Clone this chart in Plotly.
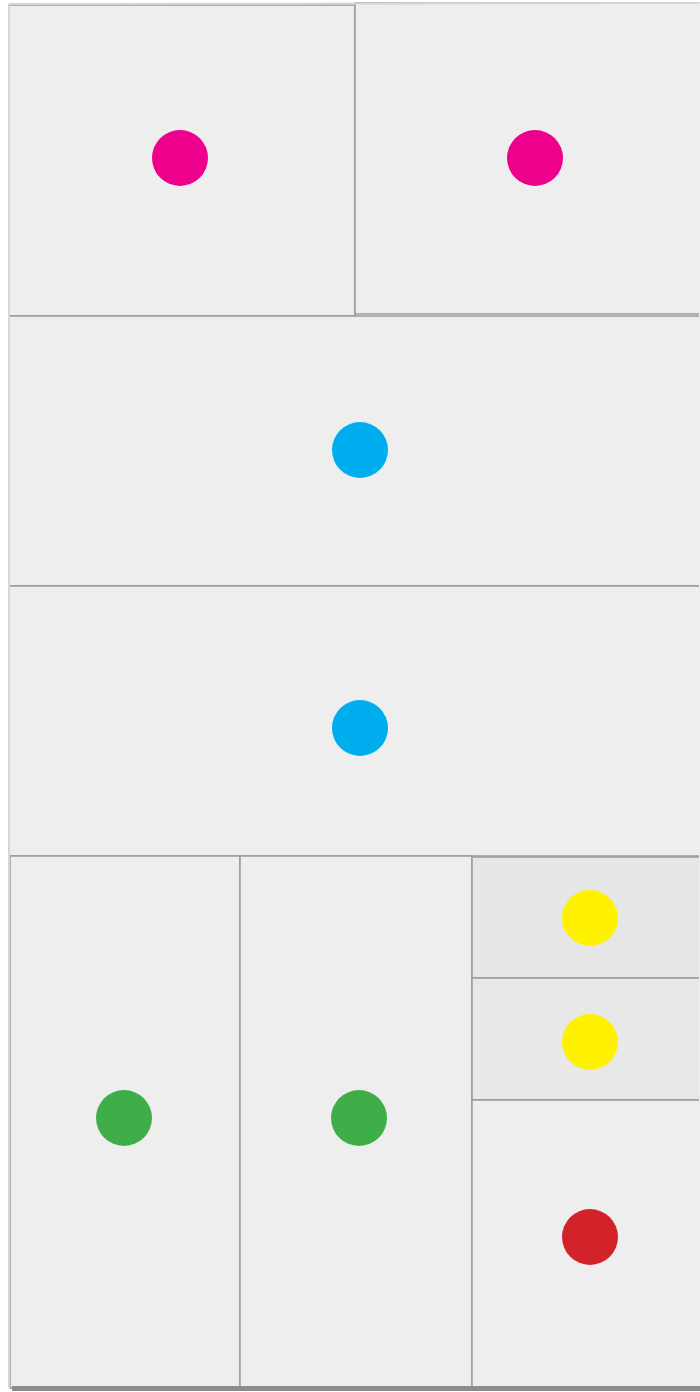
import plotly.graph_objects as go

# Panels of the cabinet (left, right, top, bottom) in picture units
panel_x0 = [9, 355, 9, 9, 10, 240, 472, 472, 472]
panel_x1 = [355, 700, 700, 700, 240, 472, 700, 700, 700]
panel_y0 = [5, 3, 316, 586, 856, 856, 857, 978, 1100]
panel_y1 = [316, 314, 586, 856, 1388, 1388, 978, 1100, 1388]
panel_fill = ["#eeeeee", "#eeeeee", "#eeeeee", "#eeeeee", "#eeeeee", "#eeeeee",
              "#e6e6e6", "#e8e8e8", "#eeeeee"]

# Coloured dots
dot_x = [180, 535, 360, 360, 590, 590, 124, 359, 590]
dot_y = [158, 158, 450, 728, 918, 1042, 1118, 1118, 1237]
dot_color = ["#ec008c", "#ec008c", "#00aeef", "#00aeef", "#fff200", "#fff200",
             "#3fae49", "#3fae49", "#d2232a"]

fig = go.Figure()

shapes = []
for x0, x1, y0, y1, fc in zip(panel_x0, panel_x1, panel_y0, panel_y1, panel_fill):
    shapes.append(dict(type="rect", xref="x", yref="y", x0=x0, x1=x1, y0=y0, y1=y1,
                       fillcolor=fc, line=dict(color="#9a9a9a", width=1.5), layer="below"))
# soften outer edges (left and top) like the lit cabinet sides
shapes.append(dict(type="line", xref="x", yref="y", x0=9, x1=9, y0=5, y1=1388,
                   line=dict(color="#d6d6d6", width=2), layer="below"))
shapes.append(dict(type="line", xref="x", yref="y", x0=9, x1=700, y0=4, y1=3,
                   line=dict(color="#d6d6d6", width=2), layer="below"))
shapes.append(dict(type="line", xref="x", yref="y", x0=700, x1=700, y0=3, y1=1388,
                   line=dict(color="#eeeeee", width=2), layer="below"))
# bottom shadow
shapes.append(dict(type="rect", xref="x", yref="y", x0=12, x1=700, y0=1386, y1=1391,
                   fillcolor="#8c8c8c", line=dict(width=0), layer="below"))

fig.add_trace(go.Scatter(
    x=dot_x, y=dot_y, mode="markers",
    marker=dict(size=56, color=dot_color, line=dict(width=0)),
    hoverinfo="skip", showlegend=False))

fig.update_layout(
    width=700, height=1392,
    margin=dict(l=0, r=0, t=0, b=0),
    paper_bgcolor="#ffffff", plot_bgcolor="#ffffff",
    shapes=shapes,
    xaxis=dict(range=[0, 700], visible=False, fixedrange=True),
    yaxis=dict(range=[1392, 0], visible=False, fixedrange=True),
    showlegend=False,
)

fig.write_html("out.html", config={"displayModeBar": False},
               post_script="document.body.style.margin='0';document.body.style.overflow='hidden';")
